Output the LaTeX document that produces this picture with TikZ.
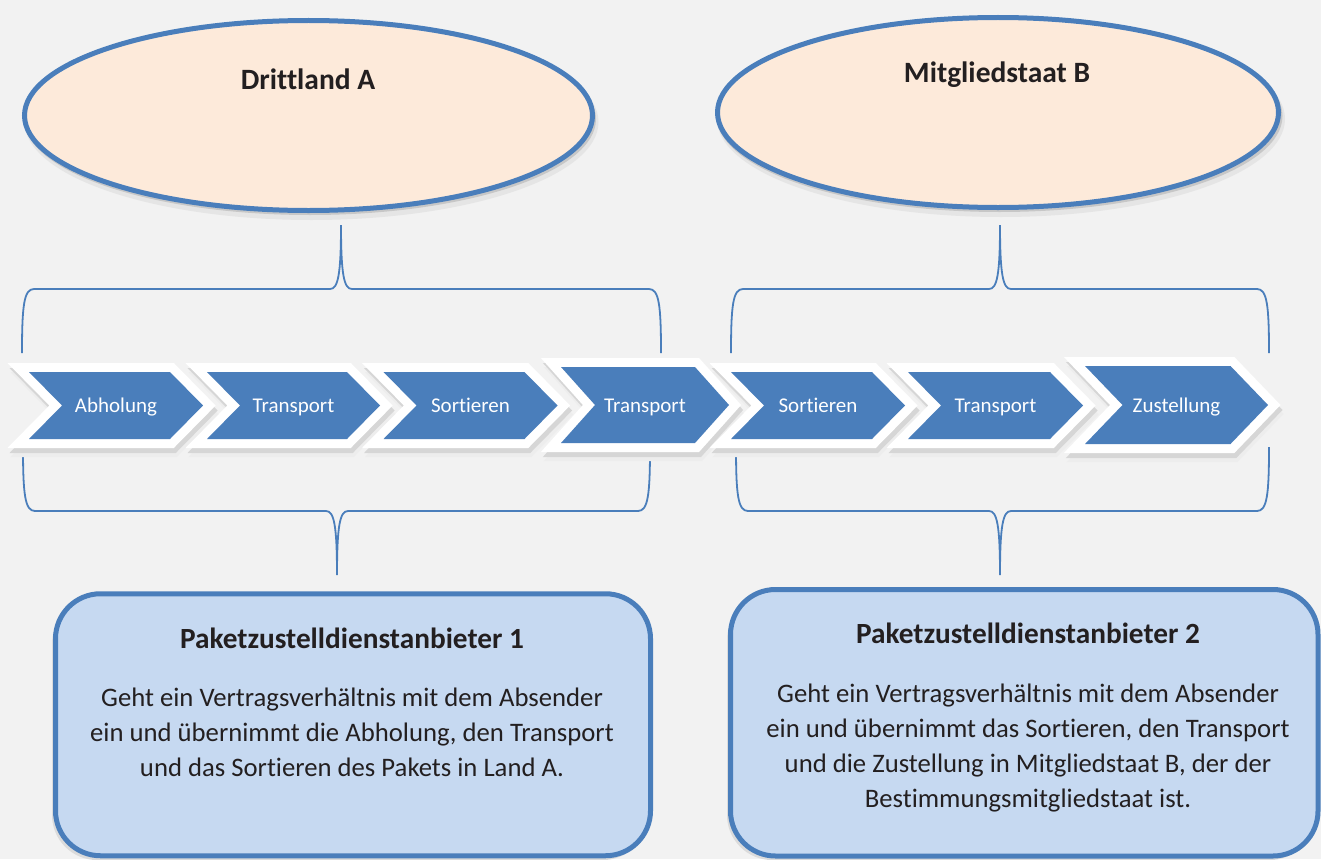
\documentclass[tikz,border=0pt]{standalone}
\usepackage{fontspec}
\setmainfont{Carlito}[Ligatures={NoCommon}]
\usetikzlibrary{shapes.geometric}
\definecolor{bg}{HTML}{F2F2F2}
\definecolor{peach}{HTML}{FDEADA}
\definecolor{obl}{HTML}{4A7EBB}
\definecolor{chevblue}{HTML}{4A7EBB}
\definecolor{lblue}{HTML}{C6D9F1}
\definecolor{txt}{HTML}{231F20}
\newcommand\chevpath[5]{(#1-#3,#2-#4) -- (#1+#3-#5,#2-#4) -- (#1+#3,#2) -- (#1+#3-#5,#2+#4) -- (#1-#3,#2+#4) -- (#1-#3+#5,#2) -- cycle}
\begin{document}
\begin{tikzpicture}[x=1pt,y=-1pt,
  country/.style={ellipse, draw=obl, line width=5pt, fill=peach, inner sep=0pt, minimum height=190pt},
  ctitle/.style={font=\bfseries\fontsize{29.5}{34}\selectfont, text=txt},
  brace/.style={draw=obl, line width=1.8pt},
  chevlbl/.style={text=white, font=\fontsize{21}{25}\selectfont, anchor=base},
  provider/.style={draw=obl, line width=5pt, fill=lblue, rounded corners=45pt, inner sep=0pt},
  ptitle/.style={font=\bfseries\fontsize{29.3}{34}\selectfont, text=txt},
  pbody/.style={font=\fontsize{26.7}{35}\selectfont, text=txt, align=center},
]
\useasboundingbox (0,0) rectangle (1321,859);
\clip (0,0) rectangle (1321,859);
\fill[bg] (0,0) rectangle (1321,859);

% braces
\draw[brace] (22,353) .. controls (22,305) and (24,289) .. (34,289) -- (330,289)
  .. controls (338,289) and (341,275) .. (341,225)
  .. controls (341,275) and (344,289) .. (352,289) -- (649,289)
  .. controls (659,289) and (661,305) .. (661,353);
\draw[brace] (731,353) .. controls (731,305) and (733,289) .. (743,289) -- (989,289)
  .. controls (997,289) and (1000,275) .. (1000,225)
  .. controls (1000,275) and (1003,289) .. (1011,289) -- (1257,289)
  .. controls (1267,289) and (1269,305) .. (1269,353);
\draw[brace] (23,447) .. controls (23,495) and (25,511) .. (35,511) -- (326,511)
  .. controls (334,511) and (337,525) .. (337,575)
  .. controls (337,525) and (340,511) .. (348,511) -- (638,511)
  .. controls (648,511) and (650,495) .. (650,447);
\draw[brace] (736,447) .. controls (736,495) and (738,511) .. (748,511) -- (989,511)
  .. controls (997,511) and (1000,525) .. (1000,575)
  .. controls (1000,525) and (1003,511) .. (1011,511) -- (1257,511)
  .. controls (1267,511) and (1269,495) .. (1269,447);

% countries
\fill[black!10] (311.5,122) ellipse [x radius=287pt, y radius=98pt];
\fill[black!22] (310,119) ellipse [x radius=286pt, y radius=96pt];
\node[country, minimum width=568pt] (ca) at (308.5,115.5) {};
\node[ctitle] (cat) at (308,79) {Drittland A};
\fill[black!10] (1001,119) ellipse [x radius=284pt, y radius=98pt];
\fill[black!22] (999.5,116) ellipse [x radius=283pt, y radius=96pt];
\node[country, minimum width=561pt] (cb) at (998,112.5) {};
\node[ctitle] (cbt) at (997,75) {Mitgliedstaat B};

% chevrons: shadows
\foreach \cx/\cy/\hw/\hh/\dd in {116/405.5/87/33.5/33, 293.5/405.5/86.5/33.5/33, 470.5/405.5/87/33.5/33, 645/405/84/38/34, 818/405.5/87/33.5/33, 995.5/405.5/87.5/33.5/33, 1176.5/405/91.5/39/37.5}{
  \draw[black!7, fill=black!7, line width=18pt, line join=miter] \chevpath{\cx+3}{\cy+9}{\hw}{\hh}{\dd};
  \draw[black!16, fill=black!16, line width=18pt, line join=miter] \chevpath{\cx+2}{\cy+5}{\hw}{\hh}{\dd};
}
% chevrons
\foreach \cx/\cy/\hw/\hh/\dd/\lab/\nm in {116/405.5/87/33.5/33/Abholung/s1, 293.5/405.5/86.5/33.5/33/Transport/s2, 470.5/405.5/87/33.5/33/Sortieren/s3, 645/405/84/38/34/Transport/s4, 818/405.5/87/33.5/33/Sortieren/s5, 995.5/405.5/87.5/33.5/33/Transport/s6, 1176.5/405/91.5/39/37.5/Zustellung/s7}{
  \draw[white, line width=18pt, line join=miter] \chevpath{\cx}{\cy}{\hw}{\hh}{\dd};
  \fill[chevblue] \chevpath{\cx}{\cy}{\hw}{\hh}{\dd};
  \node[chevlbl] (\nm) at (\cx,\cy+7) {\lab};
}

% providers
\fill[black!14, rounded corners=45pt] (52,599) rectangle (648,860);
\node[provider, minimum width=595pt, minimum height=262pt] (p1) at (353,724.75) {};
\node[ptitle] (p1t) at (352,638) {Paketzustelldienstanbieter 1};
\node[pbody] (p1b) at (352,732) {Geht ein Vertragsverhältnis mit dem Absender\\ein und übernimmt die Abholung, den Transport\\und das Sortieren des Pakets in Land A.};
\fill[black!14, rounded corners=45pt] (727,595) rectangle (1315,860);
\node[provider, minimum width=587.5pt, minimum height=266.5pt] (p2) at (1024.25,722.75) {};
\node[ptitle] (p2t) at (1028,633) {Paketzustelldienstanbieter 2};
\node[pbody] (p2b) at (1028,748) {Geht ein Vertragsverhältnis mit dem Absender\\ein und übernimmt das Sortieren, den Transport\\und die Zustellung in Mitgliedstaat B, der der\\Bestimmungsmitgliedstaat ist.};
\end{tikzpicture}
\end{document}
